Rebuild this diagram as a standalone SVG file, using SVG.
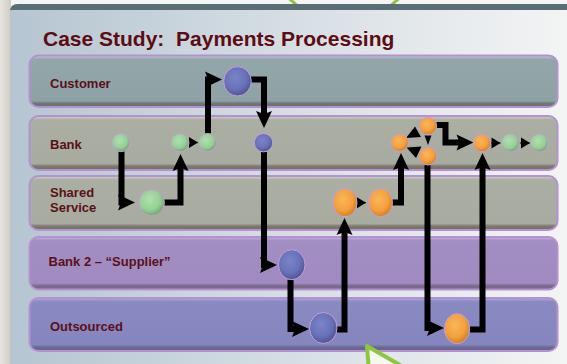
<svg xmlns="http://www.w3.org/2000/svg" width="567" height="364" viewBox="0 0 567 364">
<defs>
<style>
.title{font-family:"Liberation Sans",Arial,sans-serif;font-weight:bold;font-size:21px;fill:#5c0c12}
.lbl{font-family:"Liberation Sans",Arial,sans-serif;font-weight:bold;font-size:13px;fill:#5a1018}
.lane{stroke:#b690d2;stroke-width:2}
.conn{fill:none;stroke:#000;stroke-width:6;stroke-linejoin:miter}
.thin{fill:none;stroke:#000;stroke-width:1}
.head{fill:#000}
.node{stroke:#c79ddb;stroke-width:1}
.g{fill:url(#gG)}
.b{fill:url(#gB)}
.o{fill:url(#gO)}
</style>
<linearGradient id="strip" x1="0" x2="1" y1="0" y2="0"><stop offset="0" stop-color="#e6e6df"/><stop offset="1" stop-color="#cdcdc4"/></linearGradient>
<linearGradient id="panel" x1="0" x2="1" y1="0" y2="0"><stop offset="0" stop-color="#b5c5d1"/><stop offset="0.5" stop-color="#d6dee4"/><stop offset="1" stop-color="#f3f4f4"/></linearGradient>
<linearGradient id="lC" x1="0" x2="0" y1="0" y2="1"><stop offset="0" stop-color="#c2d0d4"/><stop offset="0.07" stop-color="#93a7ab"/><stop offset="0.88" stop-color="#8ea2a6"/><stop offset="0.93" stop-color="#6e7874"/><stop offset="1" stop-color="#6a6e6a"/></linearGradient>
<linearGradient id="lK" x1="0" x2="0" y1="0" y2="1"><stop offset="0" stop-color="#d0d4ca"/><stop offset="0.07" stop-color="#abafa3"/><stop offset="0.88" stop-color="#a8aca0"/><stop offset="0.93" stop-color="#7c786c"/><stop offset="1" stop-color="#74705f"/></linearGradient>
<linearGradient id="lP" x1="0" x2="0" y1="0" y2="1"><stop offset="0" stop-color="#c4b4dc"/><stop offset="0.07" stop-color="#a28ec2"/><stop offset="0.88" stop-color="#9f8bbf"/><stop offset="0.93" stop-color="#7e6a8e"/><stop offset="1" stop-color="#786484"/></linearGradient>
<linearGradient id="lO" x1="0" x2="0" y1="0" y2="1"><stop offset="0" stop-color="#aeaedc"/><stop offset="0.07" stop-color="#8a8ac2"/><stop offset="0.88" stop-color="#8686be"/><stop offset="0.93" stop-color="#6a6894"/><stop offset="1" stop-color="#66648c"/></linearGradient>
<radialGradient id="gG" cx="0.42" cy="0.38" r="0.62"><stop offset="0" stop-color="#aee0ae"/><stop offset="0.65" stop-color="#96d096"/><stop offset="1" stop-color="#6ea86e"/></radialGradient>
<radialGradient id="gB" cx="0.42" cy="0.38" r="0.62"><stop offset="0" stop-color="#7c84c8"/><stop offset="0.65" stop-color="#6870b8"/><stop offset="1" stop-color="#4e5694"/></radialGradient>
<radialGradient id="gO" cx="0.42" cy="0.38" r="0.62"><stop offset="0" stop-color="#fab65a"/><stop offset="0.65" stop-color="#f4a03c"/><stop offset="1" stop-color="#d2821e"/></radialGradient>
<marker id="ah" markerUnits="userSpaceOnUse" markerWidth="18" markerHeight="16" refX="9" refY="8" orient="auto" overflow="visible"><path d="M0,0 L17,8 L0,16 L3,8 z" fill="#000"/></marker>
<marker id="as" markerUnits="userSpaceOnUse" markerWidth="10" markerHeight="11" refX="9" refY="5.5" orient="auto" overflow="visible"><path d="M0,0 L9,5.5 L0,11 z" fill="#000"/></marker>
</defs>

<rect x="0" y="0" width="567" height="364" fill="#f5f5f5"/>
<circle cx="344" cy="-57" r="78" fill="none" stroke="#8dc63f" stroke-width="3"/>
<rect x="0" y="0" width="11" height="364" fill="url(#strip)"/>
<path d="M10,364 V12 Q10,4 18,4 H567 V364 z" fill="url(#panel)"/>
<path d="M10,14 V12 Q10,4 18,4 H567 V10 H10 z" fill="#5a6e76"/>

<text class="title" x="43" y="46">Case Study:&#160; Payments Processing</text>

<g id="lane-customer"><rect class="lane" x="29.5" y="55.5" width="528" height="51.5" rx="9" fill="url(#lC)"/><text class="lbl" x="50" y="88">Customer</text></g>
<g id="lane-bank"><rect class="lane" x="29.5" y="116" width="528" height="54" rx="9" fill="url(#lK)"/><text class="lbl" x="50" y="149">Bank</text></g>
<g id="lane-shared"><rect class="lane" x="29.5" y="176" width="528" height="54" rx="9" fill="url(#lK)"/><text class="lbl" x="50" y="196.8">Shared</text><text class="lbl" x="50" y="211.6">Service</text></g>
<g id="lane-bank2"><rect class="lane" x="29.5" y="237" width="528" height="52.5" rx="9" fill="url(#lP)"/><text class="lbl" x="48.5" y="266">Bank 2 – “Supplier”</text></g>
<g id="lane-outsourced"><rect class="lane" x="29.5" y="298" width="528" height="53" rx="9" fill="url(#lO)"/><text class="lbl" x="50" y="330.5">Outsourced</text></g>

<g id="connectors">
<path class="conn" marker-end="url(#ah)" d="M121.5,151 V202.5 H127"/>
<path class="conn" marker-end="url(#ah)" d="M164,202.5 H180.5 V162"/>
<path class="thin" marker-end="url(#as)" d="M189,142.6 H198"/>
<path class="conn" marker-end="url(#ah)" d="M208,133.5 V79.5 H214"/>
<path class="conn" marker-end="url(#ah)" d="M251,79.5 H264 V120"/>
<path class="conn" marker-end="url(#ah)" d="M264,152 V265 H269"/>
<path class="conn" marker-end="url(#ah)" d="M290.5,279.5 V329 H301"/>
<path class="conn" marker-end="url(#ah)" d="M337,329.5 H344.5 V226"/>
<path class="thin" marker-end="url(#as)" d="M357,202.7 H366"/>
<path class="conn" marker-end="url(#ah)" d="M392,202.5 H401 V161"/>
<polygon class="head" points="406,138 415,126.5 421,137"/>
<polygon class="head" points="406.5,147.5 421.5,146.5 416,158"/>
<polygon class="head" points="424.5,135.5 431.5,135.5 428,145"/>
<path class="conn" marker-end="url(#ah)" d="M436,125 H445.5 V142.5 H465.5"/>
<path class="thin" marker-end="url(#as)" d="M491,143 H500.5"/>
<path class="thin" marker-end="url(#as)" d="M519.5,143 H530"/>
<path class="conn" marker-end="url(#ah)" d="M427.5,165 V328 H436"/>
<path class="conn" marker-end="url(#ah)" d="M470,329.5 H482.5 V161"/>
</g>

<g id="n-bank-g1"><circle class="node g" cx="121" cy="142.7" r="9"/></g>
<g id="n-bank-g2"><circle class="node g" cx="180" cy="142.7" r="9"/></g>
<g id="n-bank-g3"><circle class="node g" cx="207.5" cy="142.5" r="9"/></g>
<g id="n-shared-g"><ellipse class="node g" cx="151.7" cy="202.7" rx="12.7" ry="13"/></g>
<g id="n-customer-b"><ellipse class="node b" cx="237.5" cy="81.3" rx="13.8" ry="14.7"/></g>
<g id="n-bank-b"><circle class="node b" cx="263.5" cy="142.7" r="9.2"/></g>
<g id="n-bank2-b"><ellipse class="node b" cx="291.7" cy="264.7" rx="13.3" ry="15"/></g>
<g id="n-out-b"><ellipse class="node b" cx="323.3" cy="328" rx="13.7" ry="15.5"/></g>
<g id="n-shared-o1"><ellipse class="node o" cx="345" cy="202.7" rx="12" ry="14"/></g>
<g id="n-shared-o2"><ellipse class="node o" cx="380.5" cy="202.7" rx="12" ry="14"/></g>
<g id="n-bank-o1"><circle class="node o" cx="399.7" cy="142.7" r="8.7"/></g>
<g id="n-bank-o2"><circle class="node o" cx="428" cy="126" r="8.7"/></g>
<g id="n-bank-o3"><circle class="node o" cx="428" cy="156.3" r="8.7"/></g>
<g id="n-bank-o4"><circle class="node o" cx="482" cy="143" r="8.7"/></g>
<g id="n-bank-g4"><circle class="node g" cx="510.3" cy="143" r="9"/></g>
<g id="n-bank-g5"><circle class="node g" cx="539.3" cy="143" r="9"/></g>
<g id="n-out-o"><ellipse class="node o" cx="457" cy="328.7" rx="12.5" ry="15"/></g>

<polygon points="367,346 412,372 369,372" fill="#f4f8ee" stroke="#8dc63f" stroke-width="4" stroke-linejoin="round"/>
</svg>
